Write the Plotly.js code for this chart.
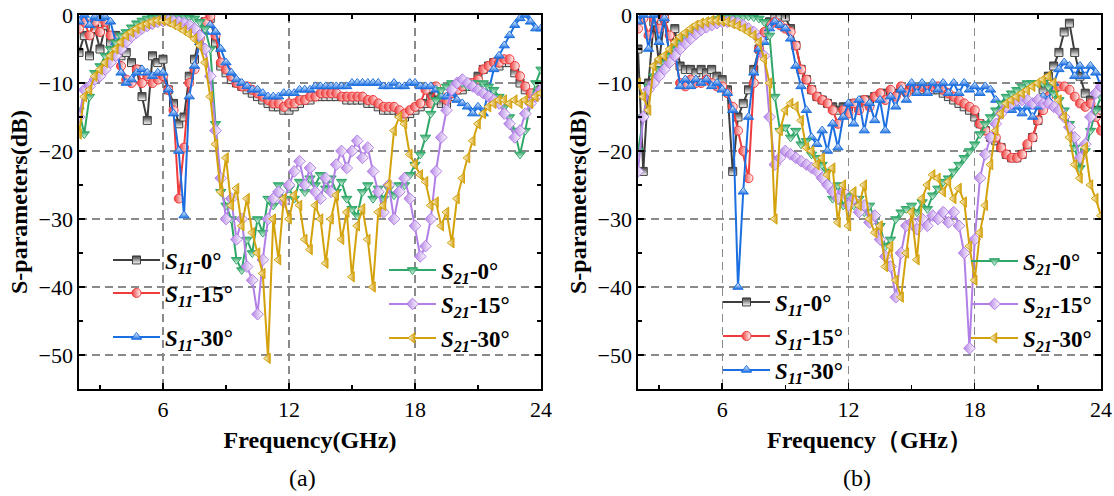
<!DOCTYPE html>
<html>
<head>
<meta charset="utf-8">
<script src="https://cdn.plot.ly/plotly-3.0.1.min.js"></script>
<style>
  html, body { margin: 0; padding: 0; background: #ffffff; }
  #chart { width: 1114px; height: 496px; }
</style>
</head>
<body>
<div id="chart"></div>
<script>
// Frequency grid (GHz), shared by every curve
const freq = [2,2.25,2.5,2.75,3,3.25,3.5,3.75,4,4.25,4.5,4.75,5,5.25,5.5,5.75,
  6,6.25,6.5,6.75,7,7.25,7.5,7.75,8,8.25,8.5,8.75,9,9.25,9.5,9.75,
  10,10.25,10.5,10.75,11,11.25,11.5,11.75,12,12.25,12.5,12.75,13,13.25,13.5,13.75,
  14,14.25,14.5,14.75,15,15.25,15.5,15.75,16,16.25,16.5,16.75,17,17.25,17.5,17.75,
  18,18.25,18.5,18.75,19,19.25,19.5,19.75,20,20.25,20.5,20.75,21,21.25,21.5,21.75,
  22,22.25,22.5,22.75,23,23.25,23.5,23.75,24];

// ---- Panel (a), S-parameters in dB ----
const a_s11_0 = [
  -5.5,-3,-6,-2,-5,-1.5,-4,-3,
  -6,-5.5,-7,-8,-12,-15.5,-6,-7,
  -6.5,-11,-13,-16,-15,-9,-6.5,-3,
  -1,-0.5,-4,-7.5,-8.5,-9.5,-10,-10.5,
  -11,-11.5,-12,-12.5,-13,-13.5,-13.5,-14,
  -14,-13.5,-13,-12.5,-12.5,-12,-12,-12,
  -12,-12,-12,-12.5,-12.5,-12.5,-12.5,-13,
  -13,-13.5,-14,-14,-14,-14.5,-15,-14.5,
  -14,-13.5,-13,-12,-12.5,-13,-13,-12,
  -11,-11,-10.5,-10,-9,-8,-7.5,-7,
  -7.5,-7,-7,-8.5,-10,-11,-12,-11.5,-11];
const a_s11_15 = [
  -2,-1,-3,-1,-2.5,-1,-3,-5,
  -7.5,-9.5,-10,-8,-10,-9,-10,-9.5,
  -9,-11,-14,-27,-19.5,-10,-8,-3.5,
  -1,-0.2,-3,-7,-8,-9,-10,-10.5,
  -10.5,-11,-11.5,-12,-12.5,-13,-13,-13.5,
  -13,-13,-12.5,-12.5,-12,-12,-11.5,-11.5,
  -11.5,-11.5,-12,-12,-12,-12,-12,-12.5,
  -12.5,-13,-13.5,-13.5,-13.5,-14,-14.5,-14,
  -13.5,-13,-11,-13,-10.5,-12,-12.5,-11.5,
  -11,-10.5,-10,-10,-9.5,-8,-7.5,-7,
  -7,-6.5,-6.5,-7.5,-9,-10.5,-11.5,-12,-11];
const a_s11_30 = [
  -1,0,-1.5,-0.3,-0.5,-0.3,-1,-4,
  -8.5,-10,-9.5,-8.5,-8,-8.5,-9,-8.5,
  -8.5,-11,-14.5,-20,-29.5,-12,-7.5,-4,
  -2.5,-1.5,-2.5,-5,-7,-8.5,-9.5,-10,
  -10.5,-11,-11,-11.5,-12,-12,-12,-11.5,
  -11.5,-11.5,-11,-11,-11,-10.5,-10.5,-10.5,
  -10.5,-10.5,-10.5,-10.5,-10,-10,-10,-10,
  -10,-10,-10.5,-10.5,-10,-10.5,-10.5,-10,
  -10,-10.5,-10.5,-10.5,-11,-12,-12,-11.5,
  -12.5,-13,-13.5,-14.5,-13.5,-14.5,-11,-8,
  -6,-4.5,-3,-1.5,-0.5,0,-1,-2,-2];
const a_s21_0 = [
  -14,-17.5,-12,-8.5,-7.5,-6,-5,-4,
  -3,-2.5,-1.8,-1.2,-0.8,-0.5,-0.4,-0.3,
  -0.2,-0.2,-0.1,-0.2,-0.2,-0.3,-0.5,-1,
  -2,-5,-16,-26,-28,-30,-36,-37.5,
  -33,-35,-30,-32,-27,-28,-25,-27,
  -25.5,-27,-24.5,-26,-24,-25,-23.5,-25.5,
  -24,-26,-24.5,-27,-28.5,-29.5,-26,-25,
  -27,-25.5,-27,-25.5,-26.5,-25,-25,-23.5,
  -22,-20.5,-18,-14.5,-12.5,-11,-10.5,-10,
  -10,-10,-10.5,-10,-10.5,-10,-10.5,-11,
  -12,-13.5,-15,-17,-20.5,-17,-13,-10,-8];
const a_s21_15 = [
  -15,-11,-10.5,-9.5,-9,-8,-7,-6,
  -5,-4,-3.2,-2.6,-2,-1.6,-1.3,-1,
  -0.9,-0.8,-0.9,-1,-1.2,-1.5,-2,-3,
  -5,-9,-17,-24,-30,-27,-33,-30,
  -37,-39,-44,-36,-30,-27,-26,-27.5,
  -25,-23,-21.5,-25,-22.5,-26,-27,-24,
  -26,-22,-20,-22.5,-20,-18.5,-21,-19.5,
  -23,-26,-29,-25,-30,-26,-24,-27,
  -31,-35.5,-34,-30,-23,-18,-14,-11,
  -10,-9.5,-10,-10.5,-11,-11.5,-12,-12.5,
  -13,-14.5,-16,-18,-17,-14.5,-13,-12,-11];
const a_s21_30 = [
  -17.5,-12,-11,-9,-8,-7,-6,-5,
  -4,-3,-2.5,-2,-1.6,-1.3,-1,-0.8,
  -0.8,-1,-1.4,-1.8,-2.3,-2.8,-3.5,-4.5,
  -7,-12,-19,-26,-21,-28,-25.5,-31,
  -27,-32,-35,-38,-50.5,-30,-36,-27,
  -30,-26.5,-28,-33,-34.5,-28,-30,-36.5,
  -30,-26.5,-33,-29,-38.5,-31,-28.5,-33,
  -40,-29,-28,-25,-17,-15,-16,-20.5,
  -22,-23.5,-24.5,-28,-27.5,-31,-29,-33.5,
  -27,-24,-21,-18.5,-16,-14.5,-13.5,-13,
  -12.5,-12.5,-13,-12.5,-13,-12.5,-13,-12,-11.5];

// ---- Panel (b), S-parameters in dB ----
const b_s11_0 = [
  -5,-23,-10,-1,-7,-0.5,-6,-2,
  -7.5,-8,-8,-8.5,-8,-8.5,-8,-9,
  -9.5,-11,-23,-15,-13,-11,-8,-5,
  -3,-1,0,0,-0.3,-2,-4.5,-8,
  -9.5,-11,-12,-12.5,-13,-13.5,-14,-13.5,
  -13.5,-13,-13,-12.5,-12.5,-12,-12,-11.5,
  -11.5,-11.5,-11,-11,-11,-11,-11,-11,
  -11,-11,-11.5,-12,-12.5,-13,-13.5,-14,
  -15,-16,-17,-18,-18.5,-19.5,-20.5,-21,
  -21,-20.5,-19.5,-18,-15.5,-11,-9,-7.5,
  -5.5,-2.5,-1.2,-5.5,-9,-11.5,-12.5,-14,-14];
const b_s11_15 = [
  -2,-0.5,-3,-0.5,-2,-0.5,-3,-6,
  -10,-10.5,-9.5,-10,-10,-9.5,-10,-10.5,
  -10.5,-11.5,-13.5,-17,-20,-24,-10,-5,
  -2.5,-1.5,-1,-1.5,-2,-2.5,-4.5,-8,
  -9.5,-11,-12,-12.5,-13,-14,-16,-14,
  -14.5,-13,-14,-12.5,-13.5,-12,-11.5,-12.5,
  -11,-12,-10.5,-11.5,-10.5,-11,-10.5,-11,
  -10.5,-10.5,-11,-11.5,-12,-12.5,-13,-13.5,
  -14,-16,-17,-18,-18,-19.5,-20.5,-21,
  -21,-20.5,-19,-18,-15.5,-14,-12,-11,
  -10.5,-10.5,-11,-12,-13,-13.5,-13,-15,-17];
const b_s11_30 = [
  -1,0,-5,0,-4,-0.5,-6,-5,
  -10.5,-9.5,-10.5,-9.5,-10,-9.5,-10.5,-10,
  -11,-11.5,-14,-40,-26,-15,-8.5,-5,
  -4,-2,-1,-1.5,-2,-3.5,-7.5,-10.5,
  -14,-18,-19,-17,-20,-16,-19.5,-15,
  -13,-16,-12.5,-17,-13,-15.5,-12.5,-17,
  -12,-13.5,-11,-12.5,-10,-11.5,-10,-11.5,
  -10,-11,-10,-11.5,-10,-11.5,-10,-11,
  -10.5,-11.5,-10.5,-11,-12.5,-13.5,-12.5,-14,
  -13.5,-14.5,-13.5,-15,-13.5,-12,-12.5,-10,
  -8,-7,-7.5,-9,-7.5,-9,-7.5,-8.5,-10.5];
const b_s21_0 = [
  -20,-15,-10.5,-9,-8,-7,-6,-5,
  -4,-3.2,-2.5,-2,-1.5,-1.1,-0.8,-0.6,
  -0.4,-0.3,-0.2,-0.2,-0.2,-0.2,-0.3,-0.5,
  -1,-3,-12,-17,-16.5,-18,-17,-19,
  -18.5,-20.5,-21,-22,-23,-27,-25,-28,
  -26.5,-28,-27,-29,-28,-30,-31,-34,
  -33,-30,-29,-28.5,-28,-29,-27.5,-28.5,
  -26.5,-25.5,-24.5,-24,-23,-22,-21,-20,
  -19,-17.5,-16,-15,-14,-13,-12,-11.5,
  -11,-10.5,-10,-10,-10,-10,-10.5,-11.5,
  -12.5,-14,-16,-19.5,-22.5,-20,-17,-14,-12];
const b_s21_15 = [
  -23,-15,-11,-10,-9,-8,-7,-6,
  -5,-4.2,-3.5,-2.8,-2.2,-1.8,-1.5,-1.2,
  -1,-1,-1,-1.2,-1.5,-2,-2.5,-3.5,
  -6,-15,-22,-21,-20,-20.5,-21,-21.5,
  -22,-22.5,-23,-24,-25,-26,-27,-26,
  -28,-27,-29,-28,-30.5,-29.5,-33,-35.5,
  -37,-41.5,-35,-31,-30.5,-31.5,-30,-31,
  -29.5,-30,-29,-30.5,-29,-31,-35,-49,
  -33,-24,-20.5,-18,-16,-14.5,-13.5,-13,
  -12.5,-12.5,-12.5,-13,-12.5,-13,-13,-13.5,
  -14,-15,-16.5,-18,-21,-19,-15,-11.5,-10.5];
const b_s21_30 = [
  -10,-12,-14,-7.5,-6.5,-6,-5,-4,
  -3.2,-2.6,-2,-1.5,-1.2,-1,-0.8,-0.8,
  -0.9,-1,-1.3,-1.6,-2,-2.5,-3,-4,
  -6.5,-10,-30,-17,-14,-13,-13.5,-15.5,
  -19.5,-20,-22,-21,-23.5,-22.5,-30.5,-25,
  -31,-26,-28,-25,-30,-32,-31,-37,
  -34,-39,-41.5,-35,-29,-36,-27,-25,
  -23.5,-24,-26,-24.5,-27,-25.5,-27.5,-34,
  -39,-32,-28,-22,-17,-14.5,-13,-12.5,
  -12,-11.5,-11,-10.5,-10,-9.5,-9,-10,
  -12.5,-15,-18,-22,-24,-19.5,-25,-27,-29.5];

// Legend labels
const labels = {
  s11_0:  '<b><i>S</i><sub><i>11</i></sub>-0°</b>',
  s11_15: '<b><i>S</i><sub><i>11</i></sub>-15°</b>',
  s11_30: '<b><i>S</i><sub><i>11</i></sub>-30°</b>',
  s21_0:  '<b><i>S</i><sub><i>21</i></sub>-0°</b>',
  s21_15: '<b><i>S</i><sub><i>21</i></sub>-15°</b>',
  s21_30: '<b><i>S</i><sub><i>21</i></sub>-30°</b>'
};

// Line / half-filled marker styles
const styles = {
  s11_0:  {color:'#3d3d3d', symbol:'square',        size:8, fill:'#3d3d3d', grad:{type:'vertical',   color:'#ffffff'}},
  s11_15: {color:'#ef3b3b', symbol:'circle',        size:9, fill:'#ef3b3b', grad:{type:'horizontal', color:'#ffffff'}},
  s11_30: {color:'#1b6fe0', symbol:'triangle-up',   size:9, fill:'#ffffff', grad:{type:'vertical',   color:'#1b6fe0'}},
  s21_0:  {color:'#2fa768', symbol:'triangle-down', size:9, fill:'#2fa768', grad:{type:'vertical',   color:'#ffffff'}},
  s21_15: {color:'#b27fe6', symbol:'diamond',       size:9, fill:'#b27fe6', grad:{type:'horizontal', color:'#ffffff'}},
  s21_30: {color:'#d4a20c', symbol:'triangle-left', size:9, fill:'#ffffff', grad:{type:'horizontal', color:'#d4a20c'}}
};

const W = 1114, H = 496;
const px = v => v / W;
const py = v => 1 - v / H;

// Legend anchor points (pixel) for each entry of each panel
const legendSpots = {
  a: {s11_0:[108,260], s11_15:[108,293], s11_30:[108,337], s21_0:[384,270], s21_15:[384,304], s21_30:[384,338]},
  b: {s11_0:[718,302], s11_15:[718,336], s11_30:[718,370], s21_0:[966,261], s21_15:[966,304], s21_30:[966,338]}
};

const panels = [
  {id:'a', xaxis:'x',  yaxis:'y',  series:{s11_0:a_s11_0, s11_15:a_s11_15, s11_30:a_s11_30, s21_0:a_s21_0, s21_15:a_s21_15, s21_30:a_s21_30}},
  {id:'b', xaxis:'x2', yaxis:'y2', series:{s11_0:b_s11_0, s11_15:b_s11_15, s11_30:b_s11_30, s21_0:b_s21_0, s21_15:b_s21_15, s21_30:b_s21_30}}
];

const serif = 'Liberation Serif, Times New Roman, serif';
const traces = [];
const layout = {
  width: W, height: H, autosize: false,
  margin: {l:0, r:0, t:0, b:0},
  paper_bgcolor: '#ffffff', plot_bgcolor: '#ffffff',
  font: {family: serif, color: '#000000'},
  annotations: []
};

let legendIndex = 0;
const order = ['s11_0','s11_15','s11_30','s21_0','s21_15','s21_30'];
panels.forEach(p => {
  order.forEach(key => {
    legendIndex += 1;
    const lid = legendIndex === 1 ? 'legend' : 'legend' + legendIndex;
    const st = styles[key];
    traces.push({
      type: 'scatter', mode: 'lines+markers',
      x: freq, y: p.series[key],
      xaxis: p.xaxis, yaxis: p.yaxis,
      name: labels[key], legend: lid, showlegend: true,
      line: {color: st.color, width: 2},
      marker: {symbol: st.symbol, size: st.size, color: st.fill,
               gradient: st.grad, line: {color: st.color, width: 1}},
      hoverinfo: 'skip'
    });
    const spot = legendSpots[p.id][key];
    layout[lid] = {
      x: px(spot[0]), y: py(spot[1]), xanchor: 'left', yanchor: 'middle',
      bgcolor: 'rgba(0,0,0,0)', borderwidth: 0, itemwidth: 47,
      font: {family: serif, size: 23, color: '#000000'}
    };
  });
});

const tickFont = {family: serif, size: 22, color: '#000000'};
const titleFont = {family: serif, size: 24, color: '#000000'};

function xAxis(domain, title, anchor) {
  return {
    domain: domain, anchor: anchor, range: [2, 24], tick0: 0, dtick: 6,
    ticks: 'inside', ticklen: 6, tickwidth: 1.5, tickcolor: '#000000',
    showline: true, linecolor: '#000000', linewidth: 1.6, mirror: 'allticks',
    showgrid: true, gridcolor: '#8a8a8a', gridwidth: 1.2, griddash: '8px,5px',
    zeroline: false, automargin: false, tickfont: tickFont,
    minor: {tick0: 0, dtick: 3, ticks: 'inside', ticklen: 4, tickcolor: '#000000', tickwidth: 1.3, showgrid: false},
    title: {text: title, font: titleFont, standoff: 10}
  };
}
function yAxis(anchor) {
  return {
    domain: [py(389), py(15)], anchor: anchor, range: [-55, 0], tick0: 0, dtick: 10,
    ticks: 'inside', ticklen: 6, tickwidth: 1.5, tickcolor: '#000000',
    showline: true, linecolor: '#000000', linewidth: 1.6, mirror: 'allticks',
    showgrid: true, gridcolor: '#8a8a8a', gridwidth: 1.2, griddash: '8px,5px',
    zeroline: false, automargin: false, tickfont: tickFont,
    minor: {tick0: 0, dtick: 5, ticks: 'inside', ticklen: 4, tickcolor: '#000000', tickwidth: 1.3, showgrid: false},
    title: {text: '<b>S-parameters(dB)</b>', font: titleFont, standoff: 4}
  };
}

layout.xaxis  = xAxis([px(79), px(541)], '<b>Frequency(GHz)</b>', 'y');
layout.yaxis  = yAxis('x');
layout.xaxis2 = xAxis([px(638), px(1101)], '<b>Frequency（GHz）</b>', 'y2');
layout.yaxis2 = yAxis('x2');

layout.annotations.push(
  {text: '(a)', xref: 'paper', yref: 'paper', x: px(302), y: py(478), showarrow: false,
   xanchor: 'center', yanchor: 'middle', font: {family: serif, size: 24, color: '#000000'}},
  {text: '(b)', xref: 'paper', yref: 'paper', x: px(857), y: py(478), showarrow: false,
   xanchor: 'center', yanchor: 'middle', font: {family: serif, size: 24, color: '#000000'}}
);

Plotly.newPlot('chart', traces, layout, {displayModeBar: false, staticPlot: true});
</script>
</body>
</html>
